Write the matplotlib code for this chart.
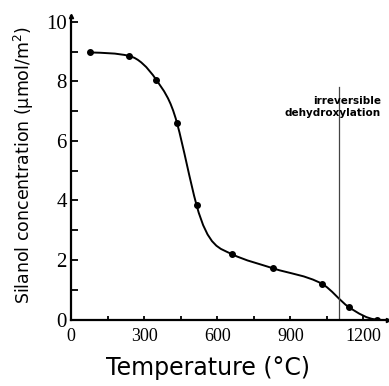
import numpy as np
import matplotlib
matplotlib.use("Agg")
from matplotlib import pyplot as plt
from matplotlib.path import Path
from matplotlib.patches import PathPatch

# values
temperature = [80, 240, 350, 435, 515, 660, 830, 1030, 1140, 1255]
silanol = [8.97, 8.85, 8.05, 6.6, 3.85, 2.2, 1.72, 1.2, 0.42, 0.0]
# slope of the drawn curve at each marker (per degree)
curve_slope = [-0.0003, -0.002, -0.012, -0.03, -0.03, -0.004, -0.0027,
               -0.0045, -0.0055, -0.0005]
x_ticks = [0, 300, 600, 900, 1200]
y_ticks = [0, 2, 4, 6, 8, 10]
dehydroxylation_t = 1100


def hermite_path(xs, ys, slopes):
    # cubic hermite pieces written as bezier segments for matplotlib
    verts = [(xs[0], ys[0])]
    codes = [Path.MOVETO]
    for i in range(len(xs) - 1):
        h = (xs[i + 1] - xs[i]) / 3.0
        verts += [(xs[i] + h, ys[i] + slopes[i] * h),
                  (xs[i + 1] - h, ys[i + 1] - slopes[i + 1] * h),
                  (xs[i + 1], ys[i + 1])]
        codes += [Path.CURVE4] * 3
    return Path(verts, codes)


fig = plt.figure(figsize=(3.89, 3.86), dpi=100)
ax = fig.add_axes([0.1825, 0.172, 0.8145, 0.787])

ax.add_patch(PathPatch(hermite_path(temperature, silanol, curve_slope),
                       facecolor="none", edgecolor="black", lw=1.4))
ax.plot(temperature, silanol, "o", color="black", ms=4)

ax.axvline(dehydroxylation_t, ymax=7.8 / 10.2, color="#444444", lw=0.9)
ax.text(1272, 7.15, "irreversible\ndehydroxylation", ha="right", va="center",
        multialignment="right", fontsize=7.5, fontweight="bold",
        linespacing=1.25, family="DejaVu Sans")

ax.set_xlim(0, 1300)
ax.set_ylim(0, 10.2)
ax.set_xticks(x_ticks)
ax.set_yticks(y_ticks)
ax.set_xticks(np.arange(150, 1300, 300), minor=True)
ax.set_yticks(np.arange(1, 10, 2), minor=True)
ax.tick_params(direction="in", width=1.3, length=5, pad=3)
ax.tick_params(axis="x", length=3, pad=6)
ax.tick_params(which="minor", direction="in", width=1.3, length=3)
ax.tick_params(axis="y", which="minor", length=5)
for lab in ax.get_yticklabels():
    lab.set_family("Liberation Serif")
    lab.set_fontsize(15)
for lab in ax.get_xticklabels():
    lab.set_family("Liberation Serif")
    lab.set_fontsize(13)

for side in ["top", "right"]:
    ax.spines[side].set_visible(False)
for side in ["left", "bottom"]:
    ax.spines[side].set_linewidth(1.6)
ax.plot([0], [10.2], "^", color="black", ms=3, clip_on=False)
ax.plot([1300], [0], ">", color="black", ms=3, clip_on=False)

fig.text(208 / 389, 1 - 368 / 386, "Temperature (°C)", ha="center",
         va="center", fontsize=17, family="DejaVu Sans")
fig.text(24 / 389, 1 - 165 / 386, "Silanol concentration (μmol/m$^2$)",
         ha="center", va="center", rotation=90, fontsize=12.5,
         family="DejaVu Sans")

fig.savefig("out.png", dpi=100)
